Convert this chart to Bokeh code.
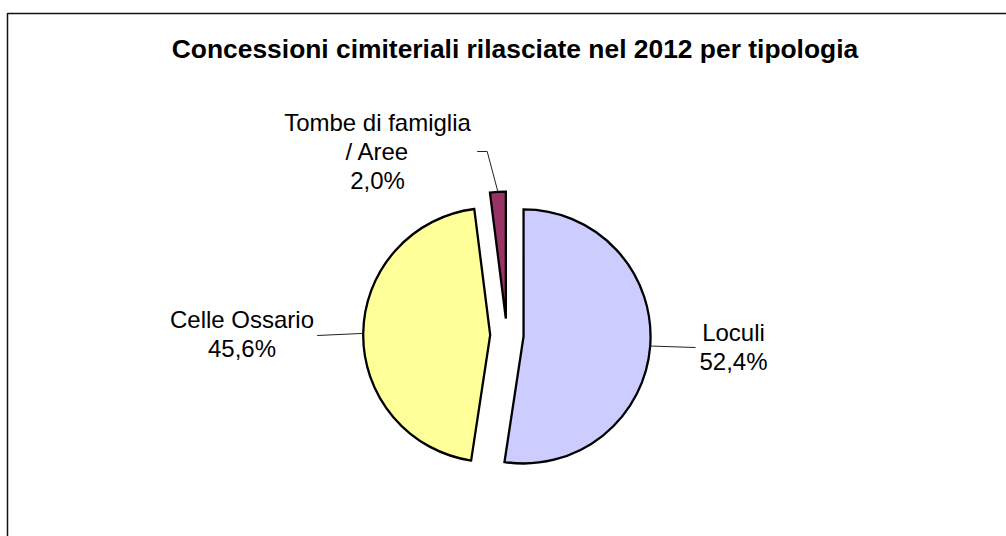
import math
from bokeh.plotting import figure
from bokeh.models import Range1d
from bokeh.embed import file_html
from bokeh.resources import INLINE
from bokeh.core.properties import value

# ---- data ----
categories = ["Loculi", "Celle Ossario", "Tombe di famiglia\n/ Aree"]
percent = [52.4, 45.6, 2.0]
pct_labels = ["52,4%", "45,6%", "2,0%"]
colors = ["#CCCCFF", "#FFFF99", "#993366"]
title_text = "Concessioni cimiteriali rilasciate nel 2012 per tipologia"

# ---- layout (page pixel coordinates, y downwards) ----
W, H = 1006, 536
X0, Y0 = 0, 0
CX, CY = 506.4, 334.7     # pie centre
R = 127.0                 # radius
EXPLODE = 16.7            # explosion distance
TEXT_SHIFT = 8            # renderer baseline correction
label_pos = [(733, 340), (241.5, 327), (377, 129.5)]   # centre x, first baseline
line_gap = 29
leader_end = [[(695, 347)], [(316.7, 335)], [(486.7, 151), (476.7, 151)]]

FONT = "Liberation Sans"

p = figure(width=W, height=H, x_range=Range1d(X0, X0 + W),
           y_range=Range1d(-(Y0 + H), -Y0), output_backend="svg",
           toolbar_location=None, min_border=0,
           x_axis_location=None, y_axis_location=None)
p.grid.visible = False
p.outline_line_color = None
p.background_fill_color = "white"
p.border_fill_color = "white"

# chart border (left and top visible; right/bottom lie outside the window)
p.line([7, 7], [-12.5, -(Y0 + H) - 5], line_color="#111111", line_width=1.5)
p.line([7, X0 + W + 5], [-13, -13], line_color="#111111", line_width=1.5)

# title
p.text(x=[514.5], y=[-(56 - TEXT_SHIFT)], text=[title_text], text_font=value(FONT),
       text_font_size="26.4px", text_font_style="bold", text_align="center",
       text_baseline="alphabetic", text_color="black")

total = sum(percent)
cum = 0.0
for i, (cat, v) in enumerate(zip(categories, percent)):
    f = v / total
    s_clock = cum * 2 * math.pi
    e_clock = (cum + f) * 2 * math.pi
    m_clock = (s_clock + e_clock) / 2
    cum += f
    ax = CX + EXPLODE * math.sin(m_clock)
    ay = -CY + EXPLODE * math.cos(m_clock)
    p.wedge(x=[ax], y=[ay], radius=R,
            start_angle=math.pi / 2 - s_clock, end_angle=math.pi / 2 - e_clock,
            direction="clock", fill_color=colors[i], line_color="black",
            line_width=2.3, line_join="miter")
    # leader line
    px = ax + R * math.sin(m_clock)
    py = ay + R * math.cos(m_clock)
    xs = [px] + [pt[0] for pt in leader_end[i]]
    ys = [py] + [-pt[1] for pt in leader_end[i]]
    p.line(xs, ys, line_color="#222222", line_width=1)
    # labels
    lines = cat.split("\n") + [pct_labels[i]]
    lx, ly = label_pos[i]
    p.text(x=[lx] * len(lines),
           y=[-(ly - TEXT_SHIFT + k * line_gap) for k in range(len(lines))],
           text=lines, text_font=value(FONT), text_font_size="24px",
           text_align="center", text_baseline="alphabetic", text_color="black")

open("out.html", "w").write(file_html(p, INLINE))
